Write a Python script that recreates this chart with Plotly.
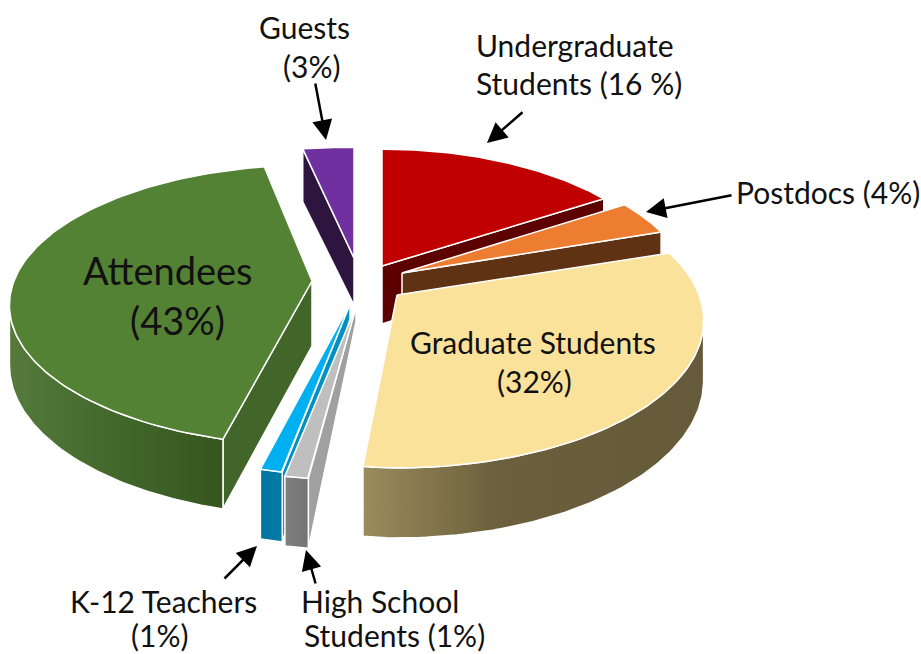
import numpy as np
import plotly.graph_objects as go

# ---- data ----
categories = ["Undergraduate Students", "Postdocs", "Graduate Students",
              "High School Students", "K-12 Teachers", "Attendees", "Guests"]
shares = [16, 4, 32, 1, 1, 43, 3]

# ---- per-slice styling (same order as categories) ----
tip_x = [382, 402, 397, 356, 350, 312, 354]
tip_y = [266, 273, 295, 307, 304, 281, 258]
radius_x = [287, 287, 302, 315, 300, 298, 320]
radius_x_left = [287, 287, 225, 315, 300, 298, 320]
radius_y = [137, 140, 143, 143, 142, 136, 130]
tip_depth = [58, 30, 70, 15, 15, 65, 47]
rim_depth = [58, 58, 58, 58, 58, 58, 62]
top_colors = ["#C00000", "#ED7D31", "#FBE29B", "#BFBFBF", "#00B0F0", "#548235", "#7030A0"]
face_colors = ["#5C0000", "#5F3214", None, "#A0A0A0", "#0090C4", "#42652A", "#2D153F"]
face_edge = ["end", "end", None, "start", "start", "start", "start"]
rim_colors = [None, None,
              [[0, "#9A8C5C"], [0.4, "#6B5F3C"], [1, "#655A39"]],
              [[0, "#7F7F7F"], [1, "#747474"]],
              [[0, "#00759F"], [1, "#007CA8"]],
              [[0, "#557A3C"], [0.6, "#3F6428"], [1, "#36561F"]],
              None]
draw_order = [6, 0, 1, 5, 4, 3, 2]

# ---- text ----
label_size, big_size = 30, 38
labels = [
    ("Guests", 304, 27, label_size), ("(3%)", 311, 66, label_size),
    ("Undergraduate", 575, 45, label_size), ("Students (16 %)", 579, 83, label_size),
    ("Postdocs (4%)", 828, 192, label_size),
    ("Graduate Students", 533, 342, label_size), ("(32%)", 534, 381, label_size),
    ("Attendees", 168, 270, big_size), ("(43%)", 177, 320, big_size),
    ("K-12 Teachers", 163, 601, label_size), ("(1%)", 159, 635, label_size),
    ("High School", 380, 601, label_size), ("Students (1%)", 394, 635, label_size),
]
arrows = [(315, 82, 326, 140), (524, 111, 487, 143), (733, 195, 646, 212),
          (223, 580, 257, 546), (316, 585, 306, 550)]

PERSPECTIVE = 0.173


def project(i, deg):
    """Angle clockwise from 12 o'clock on the slice's rim -> plot coordinates."""
    t = np.radians(deg)
    X, Y = np.sin(t), np.cos(t)
    p = 1 / (1 + PERSPECTIVE * Y)
    rad = np.where(X < 0, radius_x_left[i], radius_x[i])
    return tip_x[i] + rad * X * p, tip_y[i] - radius_y[i] * Y * p, p


def add_poly(fig, xs, ys, color=None, gradient=None, line_w=1.5):
    kw = dict(fillcolor=color) if gradient is None else dict(
        fillgradient=dict(type="horizontal", colorscale=gradient))
    fig.add_trace(go.Scatter(x=list(xs), y=list(ys), mode="lines", fill="toself",
                             line=dict(color="white", width=line_w),
                             hoverinfo="skip", showlegend=False, **kw))


edges = np.concatenate([[0], np.cumsum(shares)]) * 360 / sum(shares)
fig = go.Figure()

for i in draw_order:
    a0, a1 = edges[i], edges[i + 1]
    # cut face
    if face_edge[i]:
        a = a0 if face_edge[i] == "start" else a1
        rx, ry, p = project(i, a)
        add_poly(fig,
                 [tip_x[i], rx, rx, tip_x[i], tip_x[i]],
                 [tip_y[i], ry, ry + rim_depth[i] * p, tip_y[i] + tip_depth[i], tip_y[i]],
                 face_colors[i])
    # outer wall (front half of the rim only)
    lo, hi = max(a0, 100), min(a1, 260)
    if rim_colors[i] is not None and hi > lo:
        ang = np.linspace(lo, hi, 90)
        rx, ry, p = project(i, ang)
        add_poly(fig, np.r_[rx, rx[::-1], rx[0]],
                 np.r_[ry, (ry + rim_depth[i] * p)[::-1], ry[0]],
                 gradient=rim_colors[i])
    # top surface
    ang = np.linspace(a0, a1, 120)
    rx, ry, _ = project(i, ang)
    add_poly(fig, np.r_[tip_x[i], rx, tip_x[i]], np.r_[tip_y[i], ry, tip_y[i]], top_colors[i])

for text, x, y, size in labels:
    fig.add_annotation(x=x, y=y, text=text, showarrow=False, xanchor="center", yanchor="middle",
                       font=dict(family="Lato", size=size, color="#111111"))
for x0, y0, x1, y1 in arrows:
    fig.add_annotation(x=x1, y=y1, ax=x0, ay=y0, xref="x", yref="y", axref="x", ayref="y",
                       text="", showarrow=True, arrowhead=2, arrowsize=1.6, arrowwidth=2.5,
                       arrowcolor="black")

fig.update_layout(
    width=921, height=654, autosize=False, paper_bgcolor="white", plot_bgcolor="white",
    margin=dict(l=0, r=0, t=0, b=0), showlegend=False,
    xaxis=dict(range=[0, 921], visible=False, fixedrange=True),
    yaxis=dict(range=[654, 0], visible=False, fixedrange=True),
)
fig.write_html("out.html", config={"displayModeBar": False},
               post_script="document.body.style.margin='0';document.body.style.overflow='hidden';")
